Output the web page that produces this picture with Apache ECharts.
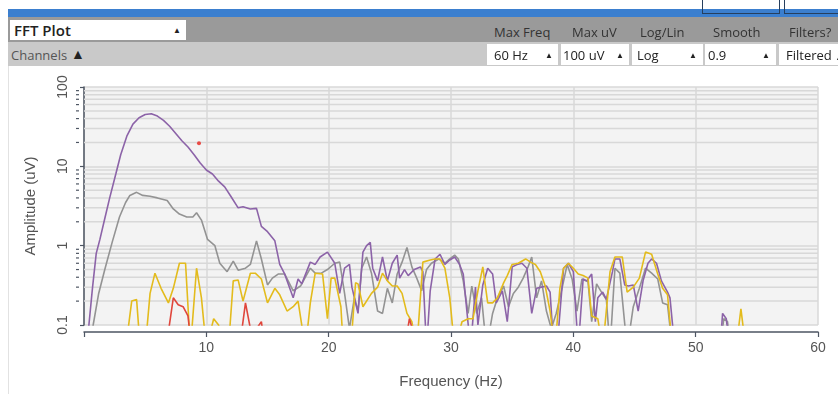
<!DOCTYPE html>
<html>
<head>
<meta charset="utf-8">
<script src="https://cdn.jsdelivr.net/npm/echarts@6/dist/echarts.min.js"></script>
<style>
  html, body { margin: 0; padding: 0; background: #fff; width: 838px; height: 394px; overflow: hidden; }
  #chart { position: absolute; left: 0; top: 0; width: 838px; height: 394px; }
  .ui { position: absolute; font-family: "Open Sans", "Noto Sans", sans-serif; white-space: nowrap; z-index: 5; }
  .box { position: absolute; background: #fff; z-index: 4; }
</style>
</head>
<body>
<div id="chart"></div>
<!-- toolbar -->
<div class="box" style="left:8px;top:9px;width:830px;height:8px;background:#3b7fcf;"></div>
<div class="box" style="left:702px;top:-2px;width:78px;height:16px;background:transparent;border:1.5px solid #263f5e;box-sizing:border-box;z-index:6;"></div>
<div class="box" style="left:784px;top:-2px;width:60px;height:16px;background:transparent;border:1.5px solid #263f5e;box-sizing:border-box;z-index:6;"></div>
<div class="box" style="left:8px;top:17px;width:830px;height:25px;background:#9a9a9a;"></div>
<div class="box" style="left:8px;top:42px;width:830px;height:24px;background:#c9c9c9;"></div>
<div class="box" style="left:8px;top:66px;width:1px;height:328px;background:#e2e2e2;"></div>
<div class="box" style="left:10px;top:20px;width:176px;height:20px;"></div>
<div class="ui" style="left:14px;top:20px;font-size:15px;font-weight:600;color:#222;line-height:20px;">FFT Plot</div>
<div class="ui" style="left:173px;top:20px;font-size:8px;color:#222;line-height:20px;">&#9650;</div>
<div class="ui" style="left:11px;top:45px;font-size:13px;color:#555;line-height:20px;">Channels</div>
<div class="ui" style="left:71px;top:44px;font-size:14px;color:#222;line-height:20px;">&#9650;</div>

<div class="ui" style="left:494px;top:22px;font-size:13px;color:#333;line-height:20px;">Max Freq</div>
<div class="ui" style="left:572px;top:22px;font-size:13px;color:#333;line-height:20px;">Max uV</div>
<div class="ui" style="left:640px;top:22px;font-size:13px;color:#333;line-height:20px;">Log/Lin</div>
<div class="ui" style="left:713px;top:22px;font-size:13px;color:#333;line-height:20px;">Smooth</div>
<div class="ui" style="left:789px;top:22px;font-size:13px;color:#333;line-height:20px;">Filters?</div>

<div class="box" style="left:487px;top:44px;width:71px;height:21px;"></div>
<div class="box" style="left:561px;top:44px;width:68px;height:21px;"></div>
<div class="box" style="left:632px;top:44px;width:71px;height:21px;"></div>
<div class="box" style="left:705px;top:44px;width:71px;height:21px;"></div>
<div class="box" style="left:779px;top:44px;width:60px;height:21px;"></div>
<div class="ui" style="left:494px;top:45px;font-size:13px;color:#222;line-height:20px;">60 Hz</div>
<div class="ui" style="left:545px;top:45px;font-size:8px;color:#222;line-height:20px;">&#9650;</div>
<div class="ui" style="left:563px;top:45px;font-size:13px;color:#222;line-height:20px;">100 uV</div>
<div class="ui" style="left:616px;top:45px;font-size:8px;color:#222;line-height:20px;">&#9650;</div>
<div class="ui" style="left:637px;top:45px;font-size:13px;color:#222;line-height:20px;">Log</div>
<div class="ui" style="left:689px;top:45px;font-size:8px;color:#222;line-height:20px;">&#9650;</div>
<div class="ui" style="left:708px;top:45px;font-size:13px;color:#222;line-height:20px;">0.9</div>
<div class="ui" style="left:762px;top:45px;font-size:8px;color:#222;line-height:20px;">&#9650;</div>
<div class="ui" style="left:786px;top:45px;font-size:13px;color:#222;line-height:20px;">Filtered <span style="font-size:8px;">&#9650;</span></div>

<script>
// ---- data (frequency in Hz, amplitude in uV; 0.05 = below the 0.1 floor) ----
const xTickValues = [0, 10, 20, 30, 40, 50, 60];
const yTickLabels = ['0.1', '1', '10', '100'];
const yMinorGrid = [0.2,0.3,0.4,0.5,0.6,0.7,0.8,0.9,2,3,4,5,6,7,8,9,20,30,40,50,60,70,80,90];

const greyHz = [0.5,0.75,1.2,1.7,2.3,2.9,3.4,3.75,4.3,4.8,5.4,6.0,6.8,7.3,7.8,8.4,8.9,9.2,9.6,10.1,10.7,11.1,11.7,12.2,12.6,13.2,13.6,14.1,14.5,15.0,15.4,15.9,16.4,17.1,17.7,18.5,18.9,19.4,19.9,20.5,20.9,21.3,21.7,22.1,22.4,22.7,23.1,23.5,24.0,24.4,24.8,25.2,25.6,26.0,26.4,26.8,27.2,27.6,28.0,28.4,29.0,29.5,29.9,30.3,30.6,31.0,31.4,31.7,32.1,32.5,32.9,33.4,33.8,34.3,34.7,35.1,35.5,35.9,36.3,36.6,37.0,37.4,37.8,38.2,38.6,39.1,39.5,39.9,40.3,40.7,41.2,41.5,41.9,42.3,42.7,43.0,43.4,43.8,44.4,44.9,45.4,45.9,46.4,46.9,47.3,47.7,48.1,52.0,52.3,52.6,52.9];
const greyUv = [0.05,0.1,0.25,0.5,1.1,2.3,3.5,4.3,4.7,4.3,4.2,4.0,3.7,2.9,2.5,2.3,2.3,2.6,2.1,1.2,1.0,0.6,0.47,0.64,0.49,0.52,0.58,1.15,0.68,0.32,0.39,0.44,0.44,0.27,0.31,0.52,0.45,0.45,0.5,0.6,0.62,0.25,0.09,0.22,0.15,0.52,0.72,0.45,0.15,0.14,0.29,0.19,0.44,0.62,0.95,0.54,0.39,0.27,0.5,0.6,0.68,0.6,0.68,0.76,0.68,0.36,0.14,0.31,0.14,0.22,0.05,0.14,0.22,0.31,0.17,0.25,0.3,0.39,0.54,0.72,0.22,0.36,0.15,0.09,0.14,0.3,0.58,0.38,0.15,0.38,0.35,0.11,0.33,0.26,0.21,0.05,0.52,0.45,0.05,0.17,0.29,0.52,0.45,0.38,0.19,0.18,0.05,0.05,0.12,0.11,0.05];

const purpleHz = [0.3,0.4,0.7,1.0,1.3,1.7,2.1,2.6,3.0,3.5,4.0,4.5,5.0,5.5,6.0,6.5,7.0,7.5,8.0,8.5,9.0,9.5,10.0,10.5,11.0,11.5,12.0,12.6,13.0,13.6,14.1,14.5,15.0,15.6,16.0,16.4,17.1,17.5,17.8,18.5,18.9,19.3,19.9,20.5,20.9,21.3,21.7,21.9,22.4,22.8,23.1,23.4,23.6,24.0,24.4,24.8,25.2,25.6,25.8,26.2,26.5,27.0,27.5,27.7,28.0,28.3,28.7,29.1,29.5,29.9,30.3,30.7,31.0,31.6,32.0,32.2,32.6,33.0,33.4,33.7,34.2,34.6,35.0,35.4,35.8,36.2,36.6,37.0,37.4,37.8,38.1,38.4,38.8,39.2,39.6,40.0,40.4,40.8,41.1,41.5,41.8,42.0,42.4,42.7,43.2,43.4,43.8,44.2,44.5,44.9,45.3,45.7,46.1,46.4,46.8,47.2,47.7,47.9,48.3,52.0,52.2,52.5,52.8];
const purpleUv = [0.05,0.1,0.3,0.8,1.2,2.2,4,8,14,24,34,41,45,46,43,38,32,26,21,17.5,14,11,9,8,6.5,5.5,4.2,3.0,3.1,2.9,2.95,1.75,1.5,1.15,0.58,0.44,0.22,0.38,0.33,0.62,0.58,0.72,0.83,0.6,0.25,0.52,0.58,0.3,0.14,0.83,1.0,1.1,0.52,0.36,0.72,0.36,0.6,0.76,0.39,0.5,0.42,0.5,0.54,0.47,0.05,0.27,0.68,0.78,0.58,0.66,0.72,0.58,0.44,0.05,0.3,0.1,0.32,0.52,0.44,0.19,0.27,0.11,0.54,0.58,0.6,0.52,0.14,0.29,0.3,0.31,0.26,0.05,0.09,0.52,0.6,0.47,0.05,0.38,0.36,0.44,0.11,0.22,0.26,0.21,0.47,0.68,0.68,0.32,0.31,0.32,0.15,0.36,0.6,0.68,0.6,0.36,0.26,0.22,0.05,0.05,0.14,0.12,0.05];

const yellowHz = [3.4,3.9,4.3,4.6,5.0,5.4,5.8,6.3,6.9,7.3,7.8,8.3,8.7,9.2,9.6,10.0,10.6,11.0,11.4,11.8,12.2,12.6,13.0,13.6,14.0,14.5,15.0,15.6,16.0,16.6,17.1,17.5,18.1,18.5,18.9,19.5,19.9,20.2,20.5,21.0,21.2,21.8,22.2,22.4,22.8,23.5,24.0,24.4,24.8,25.2,25.6,26.0,26.4,26.8,27.2,27.7,28.3,28.7,29.1,29.5,29.9,30.3,30.9,31.4,31.8,32.2,32.6,33.0,33.4,33.8,34.3,34.6,35.0,35.5,36.1,36.5,36.9,37.3,37.7,38.1,38.5,38.9,39.2,39.6,40.0,40.4,40.8,41.2,41.5,42.0,42.4,43.0,43.4,44.0,44.4,44.9,45.4,45.9,46.4,46.9,47.3,47.7,48.1,53.3,53.7,54.1];
const yellowUv = [0.05,0.2,0.21,0.05,0.05,0.25,0.45,0.29,0.19,0.29,0.6,0.6,0.05,0.52,0.22,0.05,0.12,0.1,0.05,0.05,0.36,0.37,0.2,0.45,0.45,0.38,0.19,0.29,0.24,0.15,0.17,0.2,0.05,0.19,0.45,0.44,0.12,0.39,0.39,0.17,0.05,0.05,0.34,0.33,0.17,0.25,0.3,0.45,0.36,0.31,0.31,0.25,0.14,0.11,0.05,0.62,0.66,0.68,0.68,0.52,0.22,0.05,0.11,0.12,0.12,0.27,0.54,0.19,0.19,0.22,0.34,0.42,0.58,0.6,0.68,0.62,0.58,0.47,0.31,0.15,0.05,0.29,0.52,0.6,0.52,0.44,0.42,0.39,0.13,0.12,0.05,0.47,0.72,0.72,0.26,0.3,0.39,0.83,0.78,0.44,0.29,0.24,0.05,0.05,0.16,0.05];

const redHz = [6.7,7.3,7.7,8.1,8.5,8.8,12.7,13.2,13.6,14.1,14.5,14.8,16.2,16.6,16.8,26.2,26.6,27.3];
const redUv = [0.05,0.22,0.18,0.17,0.13,0.05,0.05,0.19,0.09,0.09,0.11,0.05,0.05,0.09,0.05,0.05,0.12,0.05];

const markerPoint = [[9.4, 19.5]];

// ---- chart ----
const axisColor = '#4e5663';
const labelColor = '#555';
const gridColor = '#d8d8d8';
const pairs = (xs, ys) => xs.map((x, i) => [x, ys[i]]);
const lineSeries = (name, xs, ys, color) => ({
  name, type: 'line', data: pairs(xs, ys), showSymbol: false, symbol: 'none',
  lineStyle: { color, width: 1.6 }, clip: true, silent: true, z: 3, animation: false
});

const chart = echarts.init(document.getElementById('chart'));
chart.setOption({
  animation: false,
  grid: { left: 84, right: 20, top: 87, bottom: 58, show: true, backgroundColor: '#f3f3f3', borderWidth: 0 },
  xAxis: {
    type: 'value', min: 0, max: 60, interval: 10,
    offset: 7,
    name: 'Frequency (Hz)', nameLocation: 'middle', nameGap: 42,
    nameTextStyle: { color: labelColor, fontSize: 15, fontFamily: 'Liberation Sans' },
    axisLine: { show: true, lineStyle: { color: axisColor, width: 1.5 } },
    axisTick: { show: true, length: 5, lineStyle: { color: axisColor, width: 1.2 } },
    axisLabel: { color: labelColor, fontSize: 14, fontFamily: 'Liberation Sans', margin: 9,
      formatter: v => (v === 0 ? '' : String(v)) },
    splitLine: { show: true, lineStyle: { color: gridColor, width: 1.5 } }
  },
  yAxis: {
    type: 'log', logBase: 10, min: 0.1, max: 100,
    offset: 5,
    name: 'Amplitude (uV)', nameLocation: 'middle', nameGap: 41,
    nameTextStyle: { color: labelColor, fontSize: 15, fontFamily: 'Liberation Sans' },
    axisLine: { show: true, lineStyle: { color: axisColor, width: 1.5 } },
    axisTick: { show: true, length: 4, lineStyle: { color: axisColor, width: 1.2 } },
    axisLabel: { color: labelColor, fontSize: 14, fontFamily: 'Liberation Sans', rotate: 90, margin: 9,
      formatter: v => { const l = Math.round(Math.log10(v)) + 1; return yTickLabels[l] !== undefined ? yTickLabels[l] : ''; } },
    splitLine: { show: true, lineStyle: { color: gridColor, width: 1.5 } }
  },
  series: [
    {
      type: 'custom', silent: true, clip: false, z: 1,
      data: yMinorGrid.map(v => [0, v]),
      renderItem: (params, api) => {
        const v = api.value(1);
        const p0 = api.coord([0, v]);
        const p1 = api.coord([60, v]);
        return { type: 'group', children: [
          { type: 'line', shape: { x1: p0[0], y1: p0[1], x2: p1[0], y2: p1[1] }, style: { stroke: gridColor, lineWidth: 1.5 } },
          { type: 'line', shape: { x1: p0[0] - 8, y1: p0[1], x2: p0[0] - 5, y2: p0[1] }, style: { stroke: axisColor, lineWidth: 1.2 } }
        ]};
      }
    },
    lineSeries('Ch1', greyHz, greyUv, '#939393'),
    lineSeries('Ch2', purpleHz, purpleUv, '#8c63a8'),
    lineSeries('Ch5', yellowHz, yellowUv, '#e3bb1c'),
    lineSeries('Ch7', redHz, redUv, '#e0463c'),
    { type: 'scatter', data: markerPoint, symbolSize: 4, itemStyle: { color: '#e8231d' }, silent: true, z: 4 }
  ]
});
</script>
</body>
</html>
